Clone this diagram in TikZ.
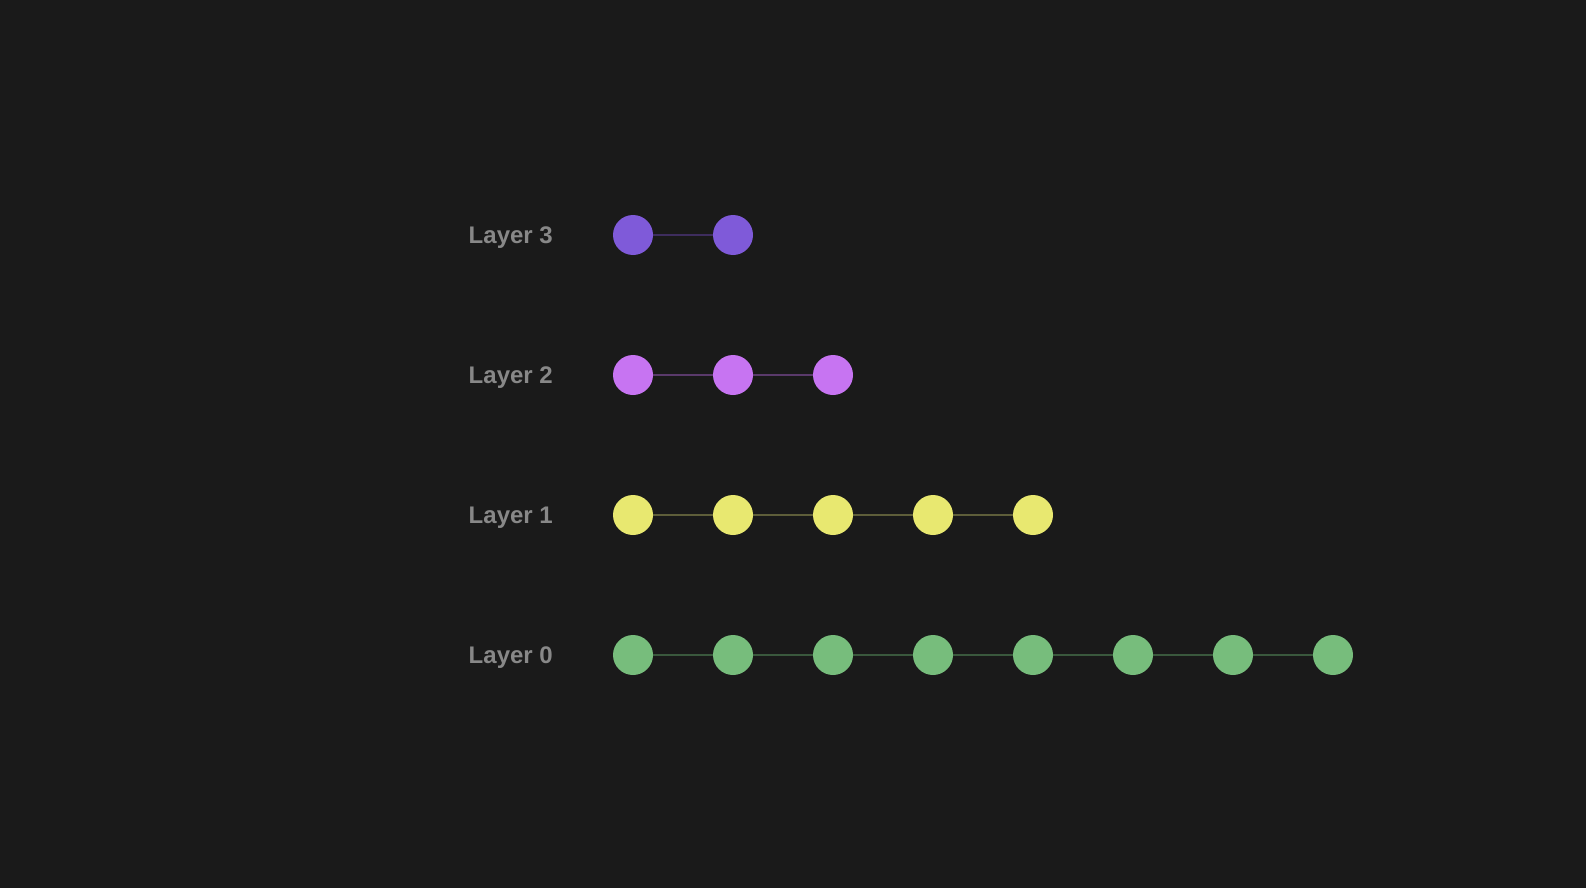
\documentclass[tikz,border=0pt]{standalone}
\usepackage{fontspec}
\setmainfont{Liberation Sans}
\definecolor{bg}{HTML}{1A1A1A}
\definecolor{labelc}{HTML}{888888}
\definecolor{cthree}{HTML}{7F5AD9}
\definecolor{lthree}{HTML}{3E2D5E}
\definecolor{ctwo}{HTML}{C774F2}
\definecolor{ltwo}{HTML}{5A3A6B}
\definecolor{cone}{HTML}{E8E870}
\definecolor{lone}{HTML}{5E5E3A}
\definecolor{czero}{HTML}{77BD7C}
\definecolor{lzero}{HTML}{3A583D}
\tikzset{
  dot/.style={circle, minimum size=40pt, inner sep=0pt, fill=#1},
  link/.style={draw=#1, line width=2.8pt, yshift=-1.5pt},
  lbl/.style={anchor=east, text=labelc, font=\fontsize{24}{28}\selectfont\bfseries, inner sep=0pt}
}
\begin{document}
\begin{tikzpicture}[x=1pt,y=-1pt]
\fill[bg] (0,0) rectangle (1586,888);
\useasboundingbox (0,0) rectangle (1586,888);
% labels
\node[lbl] (L3) at (553,238) {Layer 3};
\node[lbl] (L2) at (553,378) {Layer 2};
\node[lbl] (L1) at (553,518) {Layer 1};
\node[lbl] (L0) at (553,658) {Layer 0};
% layer 3
\foreach \i in {0,1} { \node[dot=cthree] (a\i) at (633+100*\i,235) {}; }
\begin{scope}[on background layer/.style={}]
\end{scope}
\draw[link=lthree] (a0) -- (a1);
% layer 2
\foreach \i in {0,1,2} { \node[dot=ctwo] (b\i) at (633+100*\i,375) {}; }
\draw[link=ltwo] (b0) -- (b1);
\draw[link=ltwo] (b1) -- (b2);
% layer 1
\foreach \i in {0,...,4} { \node[dot=cone] (c\i) at (633+100*\i,515) {}; }
\foreach \i [evaluate=\i as \j using int(\i+1)] in {0,...,3} { \draw[link=lone] (c\i) -- (c\j); }
% layer 0
\foreach \i in {0,...,7} { \node[dot=czero] (d\i) at (633+100*\i,655) {}; }
\foreach \i [evaluate=\i as \j using int(\i+1)] in {0,...,6} { \draw[link=lzero] (d\i) -- (d\j); }
\end{tikzpicture}
\end{document}
